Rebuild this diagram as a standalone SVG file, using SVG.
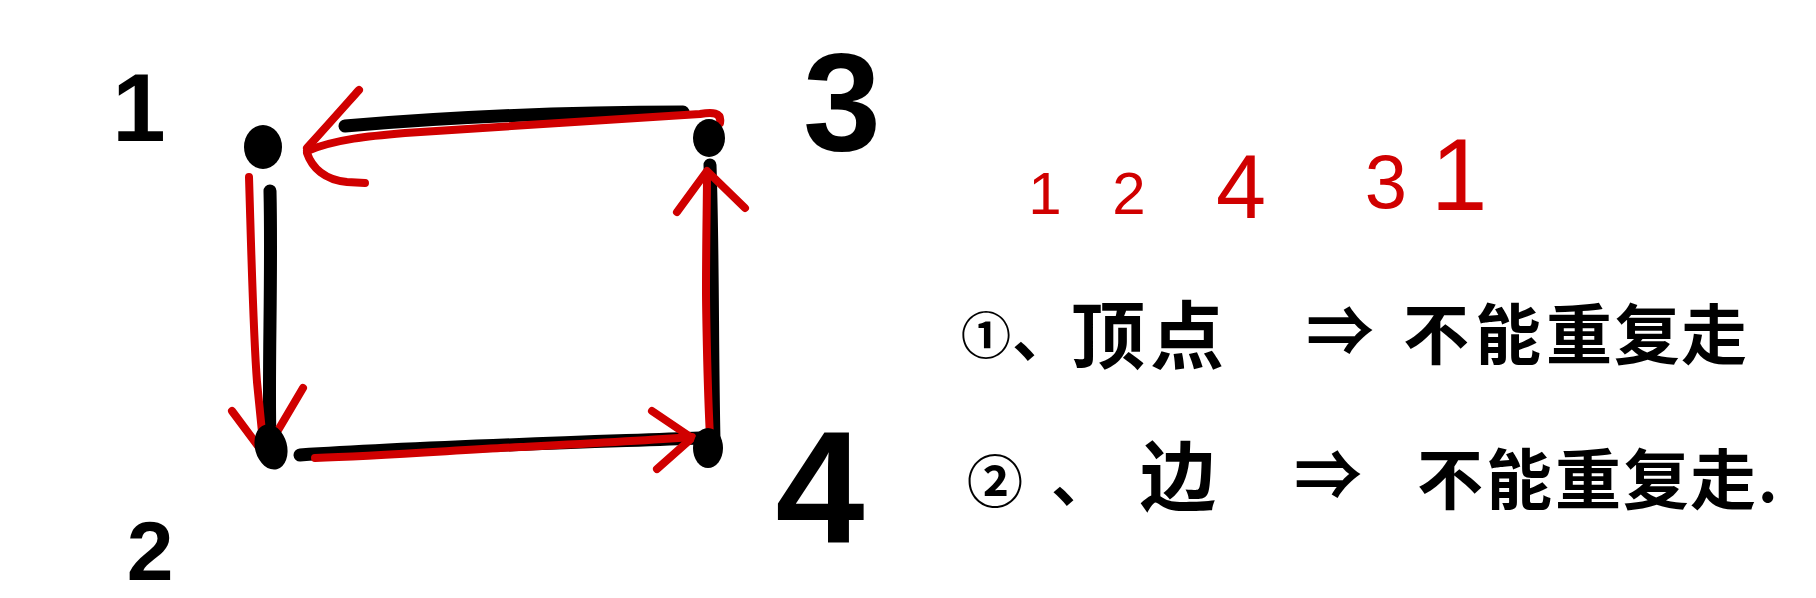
<svg xmlns="http://www.w3.org/2000/svg" width="1816" height="598" viewBox="0 0 1816 598">
<style>
.edge{fill:none;stroke:#000;stroke-width:13;stroke-linecap:round;stroke-linejoin:round}
.path{fill:none;stroke:#d00000;stroke-width:8;stroke-linecap:round;stroke-linejoin:round}
.dot{fill:#000}
.lbl{font-family:"Liberation Sans",Arial,sans-serif;font-weight:700;fill:#000;text-anchor:middle}
.seq{font-family:"Liberation Sans",Arial,sans-serif;fill:#d00000;text-anchor:middle}
.cn{font-family:"Noto Sans CJK SC","Noto Sans",sans-serif;font-weight:700;fill:#000;text-anchor:middle;dominant-baseline:central}
</style>
<rect width="1816" height="598" fill="#fff"/>
<g id="connectors">
<path class="edge" d="M345,126 C450,117 560,112 683,112"/>
<path class="edge" d="M270,191 C272,280 268,370 270,440"/>
<path class="edge" d="M710,165 C713,250 712,350 714,440"/>
<path class="edge" d="M300,455 C420,447 560,443 700,438"/>
<path class="path" d="M720,123 C722,112 712,112 700,114 C600,121 500,126 405,133 C370,136 336,139 307,151"/>
<path class="path" d="M359,90 C350,100 336,116 307,148 M307,153 C312,168 325,180 347,182 L365,183"/>
<path class="path" d="M249,177 C251,240 253,330 257,382 L264,452"/>
<path class="path" d="M232,411 L264,454 L303,388"/>
<path class="path" d="M315,458 C380,456 460,450 521,447 C580,444 640,441 692,437"/>
<path class="path" d="M652,411 L692,438 L657,469"/>
<path class="path" d="M710,437 C707,380 706,300 706,290 C706,240 707,200 707,174"/>
<path class="path" d="M677,212 L707,171 L745,208"/>
</g>
<g id="node1"><ellipse class="dot" cx="263" cy="147" rx="19" ry="22"/><text class="lbl" x="139" y="141" font-size="96">1</text></g>
<g id="node2"><ellipse class="dot" cx="271" cy="447" rx="16" ry="23" transform="rotate(-15 271 447)"/><text class="lbl" x="150" y="580" font-size="84">2</text></g>
<g id="node3"><ellipse class="dot" cx="709" cy="138" rx="16" ry="19"/><text class="lbl" x="842" y="150" font-size="140">3</text></g>
<g id="node4"><ellipse class="dot" cx="708" cy="448" rx="15" ry="20"/><text class="lbl" x="820" y="542" font-size="160">4</text></g>
<g id="sequence">
<text class="seq" x="1045" y="214" style="font-size:60px">1</text>
<text class="seq" x="1129" y="214" style="font-size:60px">2</text>
<text class="seq" x="1241" y="218" style="font-size:90px">4</text>
<text class="seq" x="1386" y="208" style="font-size:76px">3</text>
<text class="seq" x="1459" y="210" style="font-size:102px">1</text>
</g>
<g id="rule1">
<text class="cn" x="986" y="332" style="font-size:50px">①</text>
<text class="cn" x="1012" y="330" style="font-size:62px;text-anchor:start">、</text>
<text class="cn" x="1108" y="330" style="font-size:74px">顶</text>
<text class="cn" x="1187" y="330" style="font-size:74px">点</text>
<text class="cn" x="1340" y="326" style="font-size:68px">⇒</text>
<text class="cn" x="1436" y="330" style="font-size:66px">不</text>
<text class="cn" x="1508" y="330" style="font-size:66px">能</text>
<text class="cn" x="1579" y="330" style="font-size:66px">重</text>
<text class="cn" x="1647" y="330" style="font-size:66px">复</text>
<text class="cn" x="1714" y="330" style="font-size:66px">走</text>
</g>
<g id="rule2">
<text class="cn" x="995" y="477" style="font-size:56px">②</text>
<text class="cn" x="1051" y="475" style="font-size:62px;text-anchor:start">、</text>
<text class="cn" x="1178" y="472" style="font-size:76px">边</text>
<text class="cn" x="1328" y="470" style="font-size:68px">⇒</text>
<text class="cn" x="1450" y="475" style="font-size:66px">不</text>
<text class="cn" x="1519" y="475" style="font-size:66px">能</text>
<text class="cn" x="1588" y="475" style="font-size:66px">重</text>
<text class="cn" x="1656" y="475" style="font-size:66px">复</text>
<text class="cn" x="1723" y="475" style="font-size:66px">走</text>
<text class="cn" x="1758" y="475" style="font-size:60px;text-anchor:start">.</text>
</g>
</svg>
